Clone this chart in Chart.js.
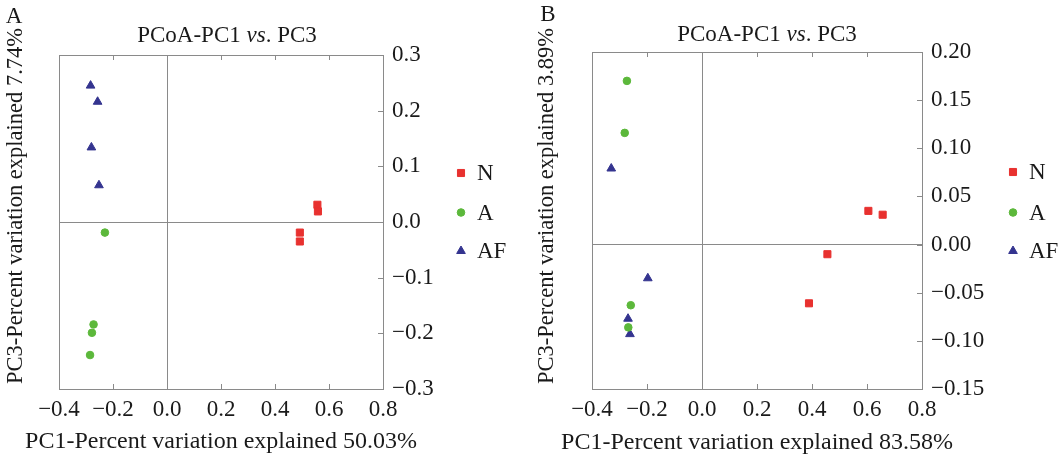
<!DOCTYPE html>
<html>
<head>
<meta charset="utf-8">
<title>PCoA PC1 vs PC3</title>
<script src="https://cdn.jsdelivr.net/npm/chart.js"></script>
<style>
  html, body { margin: 0; padding: 0; background: #fff; }
  #wrap { position: relative; width: 1060px; height: 458px; overflow: hidden; }
  .panel { position: absolute; top: 0; width: 530px; height: 458px; }
</style>
</head>
<body>
<div id="wrap">
  <div class="panel" style="left:0"><canvas id="chartA" width="530" height="458"></canvas></div>
  <div class="panel" style="left:530px"><canvas id="chartB" width="530" height="458"></canvas></div>
</div>
<script>
// --- data ---
const groups = ['N', 'A', 'AF'];

const xTickVals = [-0.4, -0.2, 0, 0.2, 0.4, 0.6, 0.8];
const xTickLabels = ['\u22120.4', '\u22120.2', '0.0', '0.2', '0.4', '0.6', '0.8'];

const yTickValsA = [-0.3, -0.2, -0.1, 0, 0.1, 0.2, 0.3];
const yTickLabelsA = ['\u22120.3', '\u22120.2', '\u22120.1', '0.0', '0.1', '0.2', '0.3'];
const yTickValsB = [-0.15, -0.10, -0.05, 0, 0.05, 0.10, 0.15, 0.20];
const yTickLabelsB = ['\u22120.15', '\u22120.10', '\u22120.05', '0.00', '0.05', '0.10', '0.15', '0.20'];

// panel A (PC1 50.03%, PC3 7.74%)
const nA_pc1 = [0.557, 0.559, 0.492, 0.492];
const nA_pc3 = [0.031, 0.019, -0.019, -0.035];
const aA_pc1 = [-0.230, -0.272, -0.278, -0.285];
const aA_pc3 = [-0.019, -0.184, -0.199, -0.239];
const afA_pc1 = [-0.283, -0.257, -0.280, -0.252];
const afA_pc3 = [0.245, 0.216, 0.134, 0.066];

// panel B (PC1 83.58%, PC3 3.89%)
const nB_pc1 = [0.605, 0.657, 0.456, 0.389];
const nB_pc3 = [0.035, 0.031, -0.010, -0.061];
const aB_pc1 = [-0.273, -0.281, -0.259, -0.268];
const aB_pc3 = [0.170, 0.116, -0.063, -0.086];
const afB_pc1 = [-0.330, -0.197, -0.269, -0.262];
const afB_pc3 = [0.079, -0.035, -0.077, -0.093];

const colors = { N: '#e8312f', A: '#5cb83b', AF: '#34348f' };
const FONT = "'Liberation Serif', 'Times New Roman', serif";
const GRAY = '#8a8a8a';
const INK = '#1a1a1a';

function pts(xs, ys) {
    return xs.map((x, i) => ({ x: x, y: ys[i] }));
}

function makeDatasets(n1, n3, a1, a3, f1, f3) {
    const style = {
        N: { pointStyle: 'rect', pointRadius: 5 },
        A: { pointStyle: 'circle', pointRadius: 3.8 },
        AF: { pointStyle: 'triangle', pointRadius: 5 }
    };
    const data = { N: pts(n1, n3), A: pts(a1, a3), AF: pts(f1, f3) };
    return groups.map(g => ({
        label: g,
        data: data[g],
        backgroundColor: colors[g],
        borderColor: colors[g],
        borderWidth: 1,
        pointStyle: style[g].pointStyle,
        pointRadius: style[g].pointRadius,
        pointHoverRadius: style[g].pointRadius
    }));
}

// frame, inward ticks, titles, panel letter and legend
const panelDecor = {
    id: 'panelDecor',
    beforeDatasetsDraw(chart, args, opts) {
        const { ctx, chartArea: ca, scales } = chart;
        ctx.save();
        ctx.strokeStyle = GRAY;
        ctx.lineWidth = 1;
        ctx.beginPath();
        ctx.moveTo(ca.left + 0.5, ca.bottom);
        ctx.lineTo(ca.left + 0.5, ca.top + 0.5);
        ctx.lineTo(ca.right, ca.top + 0.5);
        ctx.stroke();
        // inward ticks
        const tl = 5;
        ctx.beginPath();
        scales.x.ticks.forEach(t => {
            const px = Math.round(scales.x.getPixelForValue(t.value)) + 0.5;
            ctx.moveTo(px, ca.bottom);
            ctx.lineTo(px, ca.bottom - tl);
            ctx.moveTo(px, ca.top);
            ctx.lineTo(px, ca.top + tl);
        });
        scales.y.ticks.forEach(t => {
            const py = Math.round(scales.y.getPixelForValue(t.value)) + 0.5;
            ctx.moveTo(ca.right, py);
            ctx.lineTo(ca.right - tl, py);
        });
        ctx.stroke();
        ctx.restore();
    },
    afterDraw(chart, args, opts) {
        const { ctx } = chart;
        ctx.save();
        ctx.fillStyle = INK;
        ctx.textBaseline = 'middle';

        // panel letter
        ctx.font = '23px ' + FONT;
        ctx.textAlign = 'center';
        ctx.fillText(opts.letter, opts.letterX, opts.letterY);

        // title with italic "vs."
        const parts = [
            { t: 'PCoA-PC1 ', f: '23px ' + FONT },
            { t: 'vs', f: 'italic 23px ' + FONT },
            { t: '. PC3', f: '23px ' + FONT }
        ];
        let w = 0;
        parts.forEach(p => { ctx.font = p.f; p.w = ctx.measureText(p.t).width; w += p.w; });
        let x = opts.titleX - w / 2;
        ctx.textAlign = 'left';
        parts.forEach(p => { ctx.font = p.f; ctx.fillText(p.t, x, opts.titleY); x += p.w; });

        // bottom axis title
        ctx.font = '24px ' + FONT;
        ctx.textAlign = 'center';
        ctx.fillText(opts.xTitle, opts.xTitleX, opts.xTitleY);

        // left axis title
        ctx.save();
        ctx.translate(opts.yTitleX, opts.yTitleY);
        ctx.rotate(-Math.PI / 2);
        ctx.font = '22.5px ' + FONT;
        ctx.textAlign = 'center';
        ctx.fillText(opts.yTitle, 0, 0);
        ctx.restore();

        // legend
        chart.data.datasets.forEach((ds, i) => {
            const ly = opts.legendY[i];
            ctx.fillStyle = ds.backgroundColor;
            ctx.strokeStyle = ds.borderColor;
            ctx.lineWidth = ds.borderWidth;
            if (Chart.helpers && Chart.helpers.drawPoint) {
                Chart.helpers.drawPoint(ctx, { pointStyle: ds.pointStyle, radius: ds.pointRadius, rotation: 0, borderWidth: ds.borderWidth }, opts.legendX, ly);
            } else {
                ctx.beginPath();
                ctx.arc(opts.legendX, ly, ds.pointRadius, 0, Math.PI * 2);
                ctx.fill();
            }
            ctx.fillStyle = INK;
            ctx.font = '23px ' + FONT;
            ctx.textAlign = 'left';
            ctx.fillText(ds.label, opts.legendX + 16, ly + 1);
        });
        ctx.restore();
    }
};

function makeChart(id, datasets, cfg) {
    return new Chart(document.getElementById(id), {
        type: 'scatter',
        data: { datasets: datasets },
        plugins: [panelDecor],
        options: {
            responsive: false,
            animation: false,
            events: [],
            layout: { padding: { left: cfg.left, top: cfg.top, right: 0, bottom: 0 } },
            plugins: {
                legend: { display: false },
                tooltip: { enabled: false },
                title: { display: false },
                panelDecor: cfg.decor
            },
            scales: {
                x: {
                    type: 'linear',
                    position: 'bottom',
                    min: -0.4,
                    max: 0.8,
                    afterBuildTicks: s => { s.ticks = xTickVals.map(v => ({ value: v })); },
                    afterFit: s => { s.height = 458 - cfg.bottom; },
                    ticks: {
                        padding: 7,
                        color: INK,
                        font: { family: FONT, size: 23 },
                        callback: (v, i) => xTickLabels[i]
                    },
                    grid: {
                        drawTicks: false,
                        color: c => (c.tick && c.tick.value === 0) ? GRAY : 'rgba(0,0,0,0)',
                        lineWidth: 1
                    },
                    border: { display: true, color: GRAY, width: 1 }
                },
                y: {
                    type: 'linear',
                    position: 'right',
                    min: cfg.yTicks[0],
                    max: cfg.yTicks[cfg.yTicks.length - 1],
                    afterBuildTicks: s => { s.ticks = cfg.yTicks.map(v => ({ value: v })); },
                    afterFit: s => { s.width = 530 - cfg.right; },
                    ticks: {
                        padding: 9,
                        color: INK,
                        font: { family: FONT, size: 23 },
                        callback: (v, i) => cfg.yLabels[i]
                    },
                    grid: {
                        drawTicks: false,
                        color: c => (c.tick && c.tick.value === 0) ? GRAY : 'rgba(0,0,0,0)',
                        lineWidth: 1
                    },
                    border: { display: true, color: GRAY, width: 1 }
                }
            }
        }
    });
}

makeChart('chartA', makeDatasets(nA_pc1, nA_pc3, aA_pc1, aA_pc3, afA_pc1, afA_pc3), {
    left: 59, top: 55, right: 383, bottom: 389,
    yTicks: yTickValsA, yLabels: yTickLabelsA,
    decor: {
        letter: 'A', letterX: 14, letterY: 17,
        titleX: 227, titleY: 36,
        xTitle: 'PC1-Percent variation explained 50.03%', xTitleX: 221, xTitleY: 442,
        yTitle: 'PC3-Percent variation explained 7.74%', yTitleX: 16, yTitleY: 206,
        legendX: 461, legendY: [173, 212.5, 251]
    }
});

makeChart('chartB', makeDatasets(nB_pc1, nB_pc3, aB_pc1, aB_pc3, afB_pc1, afB_pc3), {
    left: 62, top: 52, right: 392, bottom: 389,
    yTicks: yTickValsB, yLabels: yTickLabelsB,
    decor: {
        letter: 'B', letterX: 18, letterY: 15,
        titleX: 237, titleY: 35,
        xTitle: 'PC1-Percent variation explained 83.58%', xTitleX: 227, xTitleY: 443,
        yTitle: 'PC3-Percent variation explained 3.89%', yTitleX: 17, yTitleY: 206,
        legendX: 483, legendY: [172, 212.5, 251]
    }
});
</script>
</body>
</html>
